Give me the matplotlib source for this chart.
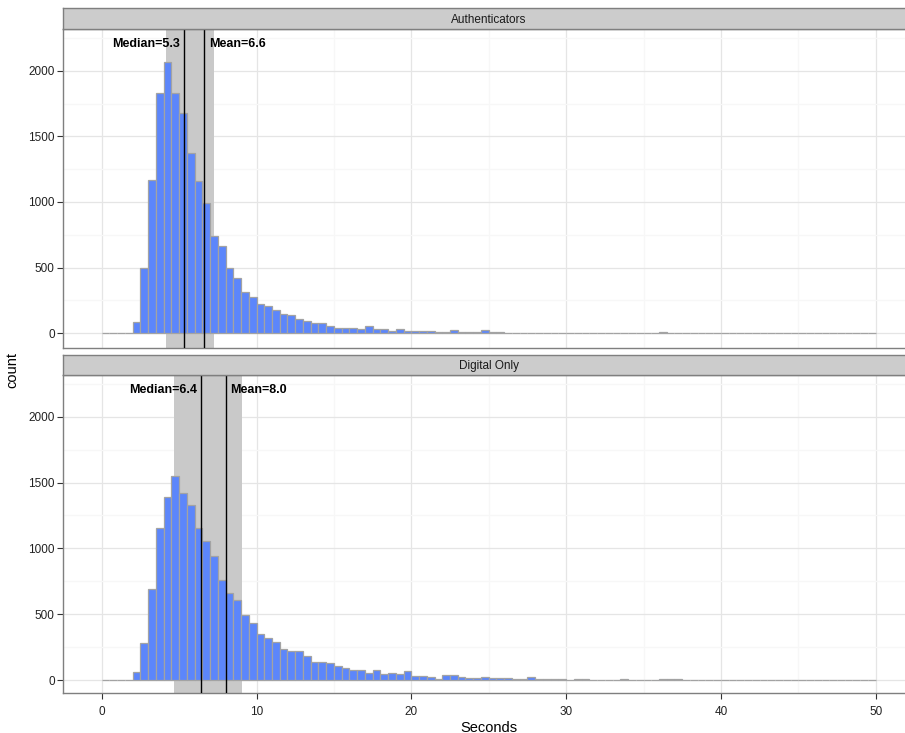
import numpy as np
import matplotlib
matplotlib.use("Agg")
import matplotlib.pyplot as plt
from matplotlib.ticker import MultipleLocator

plt.rcParams['font.family'] = ['Liberation Sans', 'DejaVu Sans']

bin_width = 0.5
bin_starts = np.arange(0, 50, bin_width)

panels = ["Authenticators", "Digital Only"]

auth_counts = [
    0, 0, 0, 0, 89, 495, 1167, 1832, 2066, 1832,
    1675, 1370, 1157, 995, 741, 667, 495, 424, 312, 275,
    222, 210, 174, 148, 136, 107, 91, 80, 80, 54,
    41, 41, 41, 36, 58, 30, 30, 20, 30, 20,
    20, 20, 20, 10, 10, 23, 10, 10, 10, 23,
    10, 10, 0, 5, 5, 5, 5, 5, 0, 5,
    0, 5, 0, 5, 5, 0, 0, 0, 0, 0,
    0, 0, 8, 0, 0, 0, 0, 0, 0, 0,
    0, 0, 0, 0, 0, 0, 0, 0, 0, 0,
    0, 0, 0, 0, 0, 0, 0, 0, 0, 0,
]

digital_counts = [
    0, 0, 0, 0, 63, 278, 694, 1152, 1392, 1549,
    1417, 1326, 1157, 1058, 944, 762, 661, 605, 496, 433,
    352, 321, 286, 238, 220, 220, 182, 139, 139, 127,
    109, 91, 73, 73, 53, 73, 46, 56, 43, 66,
    33, 33, 23, 10, 35, 35, 20, 15, 15, 25,
    15, 15, 15, 8, 8, 20, 8, 8, 8, 8,
    2, 10, 10, 2, 2, 2, 2, 10, 2, 2,
    2, 2, 10, 10, 10, 0, 0, 0, 0, 0,
    0, 0, 0, 0, 0, 0, 0, 0, 0, 0,
    0, 0, 0, 0, 0, 0, 0, 0, 0, 0,
]

medians = [5.3, 6.4]
means = [6.6, 8.0]
band_lo = [4.15, 4.65]
band_hi = [7.27, 9.08]
label_y = 2200

x_ticks = [0, 10, 20, 30, 40, 50]
y_ticks = [0, 500, 1000, 1500, 2000]

W, H = 905, 733
fig = plt.figure(figsize=(W / 100, H / 100), dpi=100)

def fx(px):
    return px / W

def fy(py):
    return 1 - py / H

left_px, right_px = 63, 914.4
panel_px = [(29.3, 348.3), (375.0, 693.3)]
strip_px = [(8.3, 29.3), (355.0, 375.0)]
ylims = [(-114, 2315), (-101, 2317)]

counts_all = [auth_counts, digital_counts]
border = '#7f7f7f'

for i in range(2):
    top, bot = panel_px[i]
    ax = fig.add_axes([fx(left_px), fy(bot), fx(right_px - left_px), (bot - top) / H])
    ax.set_xlim(-2.5, 52.5)
    ax.set_ylim(*ylims[i])
    ax.set_facecolor('white')
    ax.xaxis.set_major_locator(MultipleLocator(10))
    ax.xaxis.set_minor_locator(MultipleLocator(5))
    ax.set_yticks(y_ticks)
    ax.yaxis.set_minor_locator(MultipleLocator(250))
    ax.grid(which='major', color='#e5e5e5', linewidth=0.9)
    ax.grid(which='minor', color='#f7f7f7', linewidth=0.9)
    ax.set_axisbelow(True)
    for s in ax.spines.values():
        s.set_color(border)
        s.set_linewidth(1.0)
    ax.axvspan(band_lo[i], band_hi[i], color='#c9c9c9', zorder=1, linewidth=0)
    ax.bar(bin_starts, counts_all[i], width=bin_width, align='edge',
           color='#5c86fb', edgecolor='#a3a3a3', linewidth=0.9, zorder=2)
    ax.axvline(medians[i], color='black', linewidth=1.0, zorder=3)
    ax.axvline(means[i], color='black', linewidth=1.0, zorder=3)
    ax.annotate(f"Median={medians[i]:.1f}", xy=(medians[i], label_y), xytext=(-2.5, 0),
                textcoords='offset points', ha='right', va='center',
                fontsize=9, fontweight='bold', color='black', zorder=4)
    ax.annotate(f"Mean={means[i]:.1f}", xy=(means[i], label_y), xytext=(3.5, 0),
                textcoords='offset points', ha='left', va='center',
                fontsize=9, fontweight='bold', color='black', zorder=4)
    ax.tick_params(axis='y', direction='out', length=4, width=0.8, color='#333333',
                   labelsize=8.5, labelcolor='#222222', pad=2)
    ax.tick_params(axis='y', which='minor', length=0)
    ax.tick_params(axis='x', which='minor', length=0)
    if i == 0:
        ax.tick_params(axis='x', which='major', length=0, labelbottom=False)
    else:
        ax.set_xticks(x_ticks)
        ax.tick_params(axis='x', direction='out', length=4, width=0.8, color='#333333',
                       labelsize=8.5, labelcolor='#222222', pad=5)
        ax.set_xlabel("Seconds", fontsize=10.5, labelpad=2)

    st, sb = strip_px[i]
    sax = fig.add_axes([fx(left_px), fy(sb), fx(right_px - left_px), (sb - st) / H])
    sax.set_facecolor('#cccccc')
    sax.set_xticks([])
    sax.set_yticks([])
    for s in sax.spines.values():
        s.set_color(border)
        s.set_linewidth(1.0)
    sax.text(0.5, 0.45, panels[i], transform=sax.transAxes, ha='center', va='center',
             fontsize=8.5, color='#1a1a1a')

fig.text(fx(12), fy(370), "count", rotation=90, ha='center', va='center', fontsize=10.5)

fig.savefig("out.png", dpi=100)
